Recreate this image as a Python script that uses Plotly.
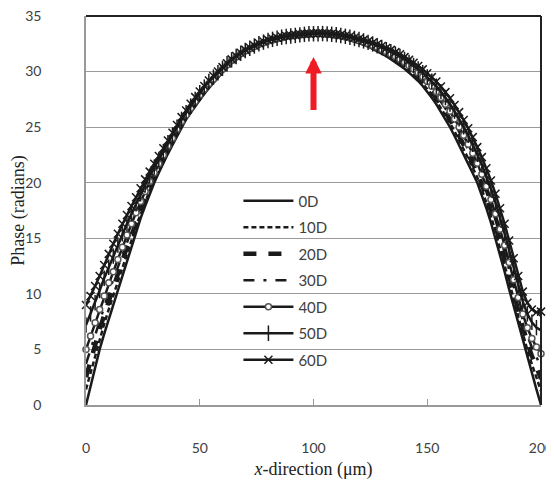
import plotly.graph_objects as go

x_um = list(range(0, 201, 2))

phase_0D = [0.0, 1.7, 3.4, 5.0, 6.4, 7.7, 9.0, 10.3, 11.7, 13.0, 14.3, 15.6, 16.8, 17.9, 19.0, 20.0,
            20.9, 21.8, 22.6, 23.4, 24.2, 25.0, 25.7, 26.3, 26.9, 27.5, 28.0, 28.5, 29.0, 29.5, 30.0,
            30.4, 30.8, 31.1, 31.4, 31.7, 31.9, 32.1, 32.3, 32.5, 32.6, 32.75, 32.85, 32.95, 33.05,
            33.1, 33.15, 33.2, 33.25, 33.3, 33.3, 33.3, 33.28, 33.25, 33.2, 33.13, 33.05, 32.95, 32.85,
            32.72, 32.58, 32.42, 32.25, 32.05, 31.85, 31.62, 31.38, 31.12, 30.85, 30.55, 30.25, 29.9,
            29.55, 29.15, 28.7, 28.2, 27.65, 27.05, 26.4, 25.7, 25.0, 24.2, 23.4, 22.55, 21.7, 20.85,
            20.0, 18.9, 17.7, 16.4, 15.0, 13.5, 12.0, 10.4, 8.9, 7.3, 5.7, 4.2, 2.8, 1.4, 0.0]

phase_10D = [1.4, 2.9, 4.5, 6.0, 7.3, 8.6, 9.8, 11.1, 12.4, 13.6, 14.8, 16.1, 17.2, 18.3, 19.3, 20.3,
             21.1, 22.0, 22.8, 23.6, 24.4, 25.1, 25.8, 26.4, 27.0, 27.6, 28.1, 28.6, 29.1, 29.6, 30.1,
             30.45, 30.85, 31.15, 31.45, 31.75, 31.95, 32.15, 32.35, 32.55, 32.65, 32.8, 32.9, 33.0, 33.1,
             33.1, 33.15, 33.2, 33.25, 33.3, 33.3, 33.3, 33.3, 33.28, 33.23, 33.16, 33.09, 32.99, 32.9,
             32.77, 32.64, 32.48, 32.32, 32.13, 31.94, 31.72, 31.49, 31.24, 30.99, 30.7, 30.41, 30.07,
             29.74, 29.35, 28.93, 28.45, 27.93, 27.36, 26.74, 26.07, 25.39, 24.62, 23.84, 23.02, 22.18, 21.34,
             20.48, 19.41, 18.24, 16.97, 15.6, 14.13, 12.65, 11.06, 9.55, 7.95, 6.38, 4.95, 3.67, 2.44, 1.26]

phase_20D = [2.5, 4.0, 5.4, 6.8, 8.1, 9.4, 10.5, 11.7, 13.0, 14.2, 15.3, 16.5, 17.6, 18.6, 19.6, 20.5,
             21.3, 22.2, 22.9, 23.7, 24.5, 25.3, 25.9, 26.5, 27.1, 27.7, 28.2, 28.7, 29.2, 29.6, 30.1,
             30.5, 30.9, 31.2, 31.5, 31.75, 31.95, 32.15, 32.35, 32.55, 32.65, 32.8, 32.9, 33.0, 33.1,
             33.15, 33.2, 33.25, 33.3, 33.3, 33.35, 33.35, 33.33, 33.3, 33.26, 33.19, 33.12, 33.03, 32.93,
             32.81, 32.68, 32.54, 32.38, 32.2, 32.02, 31.81, 31.59, 31.35, 31.1, 30.83, 30.54, 30.22,
             29.9, 29.53, 29.12, 28.66, 28.17, 27.62, 27.03, 26.39, 25.73, 24.98, 24.23, 23.42, 22.6, 21.76,
             20.9, 19.85, 18.71, 17.46, 16.12, 14.68, 13.2, 11.63, 10.1, 8.5, 6.96, 5.6, 4.42, 3.35, 2.35]

phase_30D = [3.7, 5.0, 6.4, 7.7, 8.9, 10.1, 11.3, 12.4, 13.6, 14.7, 15.8, 16.9, 17.9, 18.9, 19.8, 20.7,
             21.5, 22.3, 23.1, 23.9, 24.6, 25.4, 26.0, 26.6, 27.2, 27.8, 28.3, 28.8, 29.2, 29.7, 30.2,
             30.55, 30.9, 31.2, 31.5, 31.8, 32.0, 32.2, 32.4, 32.6, 32.7, 32.85, 32.95, 33.05, 33.1,
             33.15, 33.2, 33.25, 33.3, 33.35, 33.35, 33.35, 33.35, 33.32, 33.28, 33.22, 33.15, 33.06, 32.97,
             32.86, 32.73, 32.6, 32.44, 32.28, 32.1, 31.9, 31.68, 31.46, 31.22, 30.96, 30.68, 30.37,
             30.06, 29.7, 29.32, 28.88, 28.41, 27.89, 27.32, 26.7, 26.07, 25.35, 24.61, 23.82, 23.01, 22.18,
             21.31, 20.29, 19.18, 17.96, 16.64, 15.22, 13.76, 12.2, 10.66, 9.06, 7.55, 6.25, 5.18, 4.25, 3.44]

phase_40D = [5.0, 6.2, 7.4, 8.6, 9.8, 11.0, 12.0, 13.1, 14.2, 15.3, 16.3, 17.3, 18.3, 19.2, 20.1, 20.9,
             21.7, 22.5, 23.3, 24.0, 24.8, 25.5, 26.1, 26.7, 27.3, 27.9, 28.4, 28.9, 29.3, 29.8, 30.2,
             30.6, 31.0, 31.3, 31.6, 31.85, 32.05, 32.25, 32.45, 32.6, 32.75, 32.85, 32.95, 33.05, 33.15,
             33.2, 33.25, 33.3, 33.35, 33.35, 33.4, 33.4, 33.37, 33.34, 33.31, 33.25, 33.19, 33.1, 33.02,
             32.9, 32.78, 32.66, 32.51, 32.35, 32.18, 31.99, 31.79, 31.58, 31.35, 31.1, 30.83, 30.53,
             30.24, 29.89, 29.53, 29.11, 28.67, 28.18, 27.64, 27.05, 26.43, 25.74, 25.02, 24.26, 23.46, 22.64,
             21.76, 20.77, 19.68, 18.49, 17.2, 15.81, 14.37, 12.82, 11.27, 9.67, 8.18, 6.95, 5.99, 5.22, 4.62]

phase_50D = [7.2, 8.2, 9.2, 10.3, 11.4, 12.4, 13.4, 14.4, 15.4, 16.3, 17.2, 18.1, 19.0, 19.8, 20.6, 21.4,
             22.1, 22.8, 23.6, 24.3, 25.0, 25.7, 26.3, 26.9, 27.5, 28.1, 28.6, 29.1, 29.5, 29.9, 30.3,
             30.7, 31.05, 31.35, 31.65, 31.9, 32.1, 32.3, 32.5, 32.65, 32.8, 32.9, 33.0, 33.1, 33.15,
             33.2, 33.25, 33.3, 33.35, 33.4, 33.4, 33.4, 33.42, 33.39, 33.36, 33.31, 33.25, 33.17, 33.09,
             32.98, 32.88, 32.76, 32.63, 32.49, 32.33, 32.16, 31.97, 31.78, 31.57, 31.35, 31.09, 30.82,
             30.55, 30.23, 29.9, 29.52, 29.13, 28.69, 28.2, 27.66, 27.08, 26.44, 25.76, 25.03, 24.26, 23.45,
             22.56, 21.62, 20.58, 19.44, 18.2, 16.86, 15.44, 13.92, 12.34, 10.74, 9.3, 8.2, 7.44, 6.96, 6.72]

phase_60D = [9.0, 9.8, 10.7, 11.6, 12.6, 13.6, 14.5, 15.4, 16.3, 17.1, 17.9, 18.7, 19.5, 20.3, 21.0, 21.7,
             22.4, 23.1, 23.8, 24.5, 25.2, 25.9, 26.5, 27.1, 27.7, 28.2, 28.7, 29.2, 29.6, 30.0, 30.4,
             30.75, 31.1, 31.4, 31.7, 31.95, 32.15, 32.35, 32.55, 32.7, 32.85, 32.95, 33.05, 33.15, 33.2,
             33.25, 33.3, 33.35, 33.4, 33.4, 33.45, 33.45, 33.45, 33.42, 33.4, 33.35, 33.3, 33.22, 33.15,
             33.05, 32.95, 32.85, 32.72, 32.6, 32.45, 32.3, 32.12, 31.95, 31.75, 31.55, 31.3, 31.05,
             30.8, 30.5, 30.2, 29.85, 29.5, 29.1, 28.65, 28.15, 27.6, 27.0, 26.35, 25.65, 24.9, 24.1,
             23.2, 22.3, 21.3, 20.2, 19.0, 17.7, 16.3, 14.8, 13.2, 11.6, 10.2, 9.2, 8.6, 8.35, 8.4]

series_names = ["0D", "10D", "20D", "30D", "40D", "50D", "60D"]
series_values = [phase_0D, phase_10D, phase_20D, phase_30D, phase_40D, phase_50D, phase_60D]

x_ticks = [0, 50, 100, 150, 200]
y_ticks = [0, 5, 10, 15, 20, 25, 30, 35]

ink = "#1a1a1a"
styles = {
    "0D": dict(mode="lines", line=dict(color=ink, width=2.5)),
    "10D": dict(mode="lines", line=dict(color=ink, width=2.5, dash="5px,3px")),
    "20D": dict(mode="lines", line=dict(color=ink, width=4.5, dash="13px,12px")),
    "30D": dict(mode="lines", line=dict(color=ink, width=2.5, dash="11px,9px,3px,9px")),
    "40D": dict(mode="lines+markers", line=dict(color=ink, width=2.5),
                marker=dict(symbol="circle", size=6, color="white",
                            line=dict(color="#555555", width=1.5))),
    "50D": dict(mode="lines+markers", line=dict(color=ink, width=2.5),
                marker=dict(symbol="line-ns-open", size=11,
                            line=dict(color=ink, width=1.5))),
    "60D": dict(mode="lines+markers", line=dict(color=ink, width=2.5),
                marker=dict(symbol="x-thin-open", size=8,
                            line=dict(color="#3a3a3a", width=1.5))),
}

fig = go.Figure()
for name, vals in zip(series_names, series_values):
    fig.add_trace(go.Scatter(x=x_um, y=vals, name=name, legendgroup=name,
                             cliponaxis=False, **styles[name]))

fig.add_annotation(x=100, y=31.3, ax=100, ay=26.4, xref="x", yref="y", axref="x", ayref="y",
                   showarrow=True, arrowhead=2, arrowsize=0.55, arrowwidth=6,
                   arrowcolor="#ee1c25", text="")

fig.add_shape(type="line", xref="paper", yref="paper", x0=0, x1=1, y0=1, y1=1,
              line=dict(color="#222222", width=2))
fig.add_shape(type="line", xref="paper", yref="paper", x0=1, x1=1, y0=0, y1=1,
              line=dict(color="#222222", width=2))

tick_font = dict(family="Lato, Open Sans, sans-serif", size=14, color="#404040")
title_font = dict(family="Liberation Serif, Times New Roman, serif", size=18, color="#222222")

# the page body adds an 8px offset, so the figure is sized to fill the rest of the window
fig.update_layout(
    width=546, height=478,
    margin=dict(l=78, r=13, t=8, b=81),
    paper_bgcolor="white", plot_bgcolor="white",
    showlegend=True,
    legend=dict(x=0.335, y=0.567, xanchor="left", yanchor="top",
                bgcolor="rgba(0,0,0,0)", borderwidth=0,
                font=dict(family="Lato, Open Sans, sans-serif", size=15, color="#404040"),
                itemwidth=50, tracegroupgap=4, traceorder="grouped"),
    xaxis=dict(range=[0, 200], tickvals=x_ticks, ticktext=[str(v) for v in x_ticks],
               automargin=False, ticklabeloverflow="allow",
               showgrid=False, zeroline=False, showline=True, linecolor="#999999", linewidth=1.5,
               ticks="inside", ticklen=6, tickcolor="#999999", tickfont=tick_font,
               ticklabelstandoff=29,
               title=dict(text="<i>x</i>-direction (μm)", font=title_font, standoff=8)),
    yaxis=dict(range=[0, 35], tickvals=y_ticks, ticktext=[str(v) for v in y_ticks],
               automargin=False, ticklabeloverflow="allow",
               showgrid=True, gridcolor="#9a9a9a", gridwidth=1.2, zeroline=False,
               showline=True, linecolor="#999999", linewidth=1.5,
               ticks="", tickfont=tick_font, ticklabelstandoff=40,
               title=dict(text="Phase (radians)", font=title_font, standoff=6)),
)

fig.write_html("out.html")
